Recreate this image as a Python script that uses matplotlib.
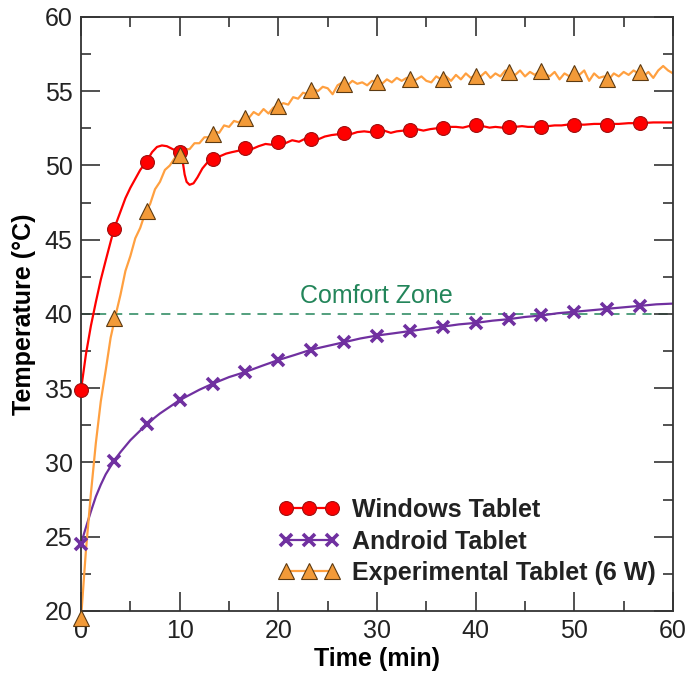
#!/usr/bin/env python3
"""Tablet surface temperature vs. time, with comfort zone line."""

import matplotlib

matplotlib.use("Agg")
import matplotlib.pyplot as plt
import numpy as np
from matplotlib.lines import Line2D
from matplotlib.ticker import MultipleLocator

# marker times (every 3.33 min)
marker_t = np.arange(18) * 10.0 / 3.0

windows_marks = [34.9, 45.7, 50.25, 50.93, 50.45, 51.15, 51.55, 51.8, 52.2,
                 52.3, 52.4, 52.5, 52.75, 52.6, 52.6, 52.75, 52.75, 52.85]
android_marks = [24.5, 30.1, 32.6, 34.2, 35.3, 36.1, 36.9, 37.6, 38.1,
                 38.55, 38.85, 39.15, 39.4, 39.65, 39.9, 40.15, 40.35, 40.55]
experimental_marks = [19.5, 39.75, 46.95, 50.7, 52.15, 53.2, 54.0, 55.1, 55.5,
                      55.6, 55.8, 55.8, 56.0, 56.3, 56.35, 56.2, 55.8, 56.3]

# Windows tablet trace
windows_t = [0, 0.5, 1, 1.5, 2, 2.5, 3.33, 4, 4.5, 5, 5.5, 6, 6.67, 7.2, 7.7,
             8.2, 8.7, 9.3, 9.8, 10.1, 10.3, 10.5, 10.7, 11.0, 11.4, 11.8,
             12.3, 12.8, 13.33, 14, 14.7, 15.3, 16, 16.67, 17.3, 18, 18.7,
             19.3, 20, 20.7, 21.4, 22.1, 22.7, 23.33, 24, 24.7, 25.4, 26,
             26.67, 27.3, 28, 28.7, 29.3, 30, 30.7, 31.4, 32, 32.7, 33.33, 34,
             34.7, 35.4, 36, 36.67, 37.3, 38, 38.7, 39.3, 40, 40.7, 41.4, 42,
             42.7, 43.33, 44, 44.7, 45.3, 46, 46.67, 47.3, 48, 48.7, 49.3, 50,
             51, 52, 53.33, 54.5, 55.5, 56.67, 58, 60]
windows_temp = [34.9, 37.3, 39.2, 40.8, 42.3, 43.6, 45.7, 46.9, 47.8, 48.5,
                49.1, 49.7, 50.3, 50.9, 51.25, 51.35, 51.3, 51.1, 50.95, 50.85,
                50.3, 49.4, 48.9, 48.7, 48.8, 49.2, 49.8, 50.2, 50.45, 50.6,
                50.8, 50.9, 51.0, 51.15, 51.1, 51.3, 51.45, 51.4, 51.55, 51.5,
                51.7, 51.6, 51.8, 51.8, 51.75, 51.95, 52.05, 52.1, 52.2, 52.1,
                52.25, 52.3, 52.25, 52.3, 52.35, 52.2, 52.3, 52.35, 52.4, 52.45,
                52.35, 52.45, 52.5, 52.5, 52.6, 52.6, 52.55, 52.65, 52.75,
                52.65, 52.55, 52.6, 52.55, 52.6, 52.6, 52.65, 52.6, 52.6, 52.6,
                52.65, 52.7, 52.7, 52.75, 52.75, 52.75, 52.8, 52.8, 52.8,
                52.85, 52.85, 52.9, 52.9]

# Android tablet trace
android_t = [0, 0.3, 0.6, 1, 1.5, 2, 2.5, 3.33, 4, 5, 6, 6.67, 8, 10, 12,
             13.33, 15, 16.67, 18.3, 20, 21.7, 23.33, 25, 26.67, 28.3, 30,
             31.7, 33.33, 35, 36.67, 38.3, 40, 41.7, 43.33, 45, 46.67, 48.3,
             50, 51.7, 53.33, 55, 56.67, 58.3, 60]
android_temp = [24.5, 25.2, 25.85, 26.7, 27.7, 28.5, 29.2, 30.1, 30.7, 31.5,
                32.15, 32.6, 33.3, 34.2, 34.9, 35.3, 35.75, 36.1, 36.5, 36.9,
                37.25, 37.6, 37.85, 38.1, 38.35, 38.55, 38.7, 38.85, 39.0,
                39.15, 39.3, 39.4, 39.55, 39.65, 39.8, 39.9, 40.05, 40.15,
                40.25, 40.35, 40.45, 40.55, 40.65, 40.7]

# Experimental tablet trace (sampled every 0.5 min)
experimental_temp = [
    19.5, 24.1, 27.9, 31.3, 34.1, 36.2, 38.4, 39.9, 41.3, 42.9,
    43.9, 45.1, 45.8, 46.8, 47.4, 48.4, 48.9, 49.7, 50.0, 50.5,
    50.6, 51.1, 51.1, 51.5, 51.5, 51.9, 51.9, 52.3, 52.2, 52.7,
    52.6, 53.0, 52.9, 53.3, 53.2, 53.6, 53.4, 53.8, 53.5, 53.9,
    54.0, 54.2, 54.1, 54.6, 54.5, 54.9, 54.8, 55.2, 55.0, 55.3,
    55.2, 54.8, 55.4, 55.6, 55.4, 55.7, 55.5, 55.6, 55.4, 55.7,
    55.6, 55.5, 55.8, 55.6, 55.9, 55.7, 55.9, 55.6, 55.8, 56.0,
    55.7, 55.6, 56.0, 55.8, 56.0, 55.7, 56.1, 55.8, 56.2, 55.9,
    56.1, 56.0, 56.3, 55.9, 56.2, 56.0, 56.4, 56.2, 56.1, 56.4,
    56.0, 56.3, 56.1, 56.4, 56.2, 56.0, 56.3, 55.8, 56.2, 56.0,
    56.3, 56.1, 56.4, 55.7, 56.2, 55.9, 56.0, 55.8, 56.2, 56.0,
    56.3, 56.1, 56.4, 56.2, 56.0, 56.3, 55.9, 56.4, 56.7, 56.4,
    56.2,
]
experimental_t = np.arange(len(experimental_temp)) * 0.5

comfort_level = 40.0

RED = "#ff0000"
PURPLE = "#7030a0"
ORANGE_LINE = "#ffa040"
ORANGE_MARK = "#f29a38"
GREEN = "#23855a"


def main() -> None:
    with plt.rc_context(
        {
            "font.family": ["Liberation Sans", "DejaVu Sans"],
            "font.size": 18,
            "xtick.labelsize": 18,
            "ytick.labelsize": 18,
            "text.color": "#222222",
            "xtick.color": "#333333",
            "ytick.color": "#333333",
            "xtick.labelcolor": "#222222",
            "ytick.labelcolor": "#222222",
        }
    ):
        fig = plt.figure(figsize=(6.89, 6.80), dpi=100)
        ax = fig.add_axes([0.1176, 0.1015, 0.8592, 0.8735])

        ax.axhline(comfort_level, color=GREEN, lw=1.1, ls=(0, (6.0, 4.5)), zorder=1)
        ax.text(22.2, 40.75, "Comfort Zone", color=GREEN, fontsize=18,
                ha="left", va="baseline")

        # lines
        ax.plot(windows_t, windows_temp, color=RED, lw=1.6, zorder=2)
        ax.plot(android_t, android_temp, color=PURPLE, lw=1.6, zorder=2)
        ax.plot(experimental_t, experimental_temp, color=ORANGE_LINE, lw=1.6, zorder=2)

        # markers
        red_kw = dict(marker="o", ms=10, mfc=RED, mec="#a01010", mew=0.8)
        purple_kw = dict(marker="x", ms=9, mec=PURPLE, mew=2.6)
        orange_kw = dict(marker="^", ms=11, mfc=ORANGE_MARK, mec="#5c3a12", mew=0.8)
        ax.plot(marker_t, windows_marks, ls="none", clip_on=False, zorder=5, **red_kw)
        ax.plot(marker_t, android_marks, ls="none", clip_on=False, zorder=5, **purple_kw)
        ax.plot(marker_t, experimental_marks, ls="none", clip_on=False, zorder=6, **orange_kw)

        ax.set_xlim(0, 60)
        ax.set_ylim(20, 60)
        ax.xaxis.set_major_locator(MultipleLocator(10))
        ax.xaxis.set_minor_locator(MultipleLocator(5))
        ax.yaxis.set_major_locator(MultipleLocator(5))
        ax.yaxis.set_minor_locator(MultipleLocator(2.5))
        ax.tick_params(which="both", direction="in", top=True, right=True, width=1.2)
        ax.tick_params(which="major", length=14, pad=6)
        ax.tick_params(which="minor", length=7.5)
        for spine in ax.spines.values():
            spine.set_linewidth(1.3)
            spine.set_color("#333333")

        ax.set_xlabel("Time (min)", fontweight="bold", fontsize=18, labelpad=3)
        ax.set_ylabel("Temperature (°C)", fontweight="bold", fontsize=18, labelpad=6)

        handles = [
            Line2D([], [], color=RED, lw=1.6, **red_kw),
            Line2D([], [], color=PURPLE, lw=1.6, **purple_kw),
            Line2D([], [], color=ORANGE_LINE, lw=1.6, **orange_kw),
        ]
        labels = ["Windows Tablet", "Android Tablet", "Experimental Tablet (6 W)"]
        ax.legend(handles, labels, loc="upper left", bbox_to_anchor=(0.333, 0.19),
                  frameon=False, numpoints=3, handlelength=2.45, handletextpad=0.5,
                  labelspacing=0.3, borderpad=0, borderaxespad=0,
                  prop={"weight": "bold", "size": 18})

        fig.savefig("out.png", dpi=100)
        plt.close(fig)


if __name__ == "__main__":
    main()
